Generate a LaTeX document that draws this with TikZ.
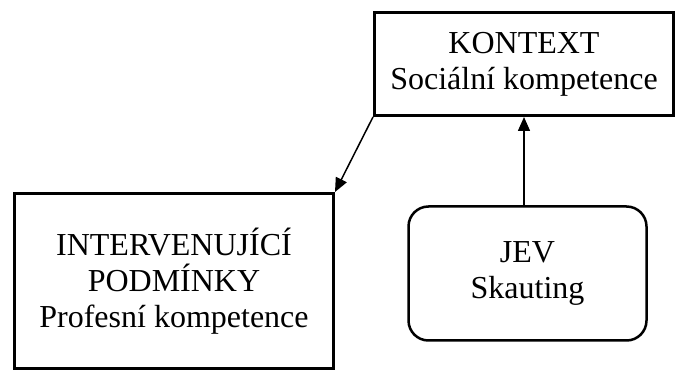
\documentclass[tikz,border=0pt]{standalone}
\usepackage{fontspec}
\setmainfont{Liberation Serif}
\usepackage{tikz}
\definecolor{white}{rgb}{1.0, 1.0, 1.0}
\definecolor{black}{rgb}{0.0, 0.0, 0.0}
\usetikzlibrary{arrows.meta}
\pgfdeclarelayer{edgelayer}
\pgfdeclarelayer{nodelayer}
\pgfsetlayers{edgelayer,nodelayer,main}
\tikzstyle{box}=[rectangle,fill=white,draw=black,line width=3pt,align=center,inner sep=0pt,font=\fontsize{32}{36}\selectfont]
\tikzstyle{roundbox}=[box,rounded corners=20pt,line width=2.5pt]
\tikzstyle{link}=[line width=1.5pt,-{Triangle[length=14pt,width=12pt]}]

\begin{document}
\begin{tikzpicture}[x=1pt,y=1pt]
        \useasboundingbox (0, 0) rectangle (677, 372);
        \begin{pgfonlayer}{nodelayer}
            \node [style = box, minimum width=299pt, minimum height=103pt] (kontext) at (524, 308) {KONTEXT\\Sociální kompetence};
            \node [style = box, minimum width=319pt, minimum height=175pt] (interv) at (174, 91) {INTERVENUJÍCÍ\\PODMÍNKY\\Profesní kompetence};
            \node [style = roundbox, minimum width=238pt, minimum height=134pt] (jev) at (527.5, 98.5) {JEV\\Skauting};
        \end{pgfonlayer}

        \begin{pgfonlayer}{edgelayer}
            \draw [style = link] (kontext.south west) to (interv.north east);
            \draw [style = link] (jev.north -| kontext.south) to (kontext.south);
        \end{pgfonlayer}
    \end{tikzpicture}
\end{document}
